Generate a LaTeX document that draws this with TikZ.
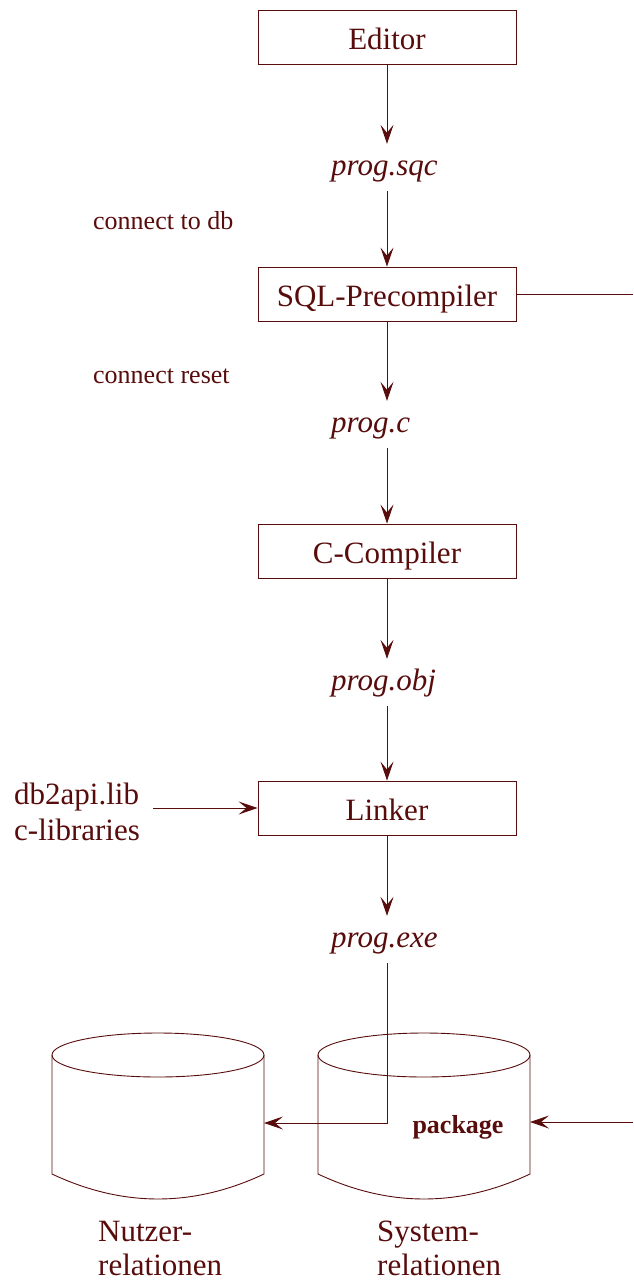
\documentclass[tikz,border=0pt]{standalone}
\usepackage{fontspec}
\setmainfont{Liberation Serif}
\usetikzlibrary{arrows.meta}
\definecolor{ink}{RGB}{88,12,12}
\begin{document}
\begin{tikzpicture}[x=1pt,y=-1pt,
  proc/.style={draw=ink, line width=0.9pt, minimum width=258pt, minimum height=54pt,
    inner sep=0pt, text height=24pt, text depth=0pt,
    font=\fontsize{31}{34}\selectfont, text=ink},
  file/.style={anchor=base west, inner sep=0pt, text height=31pt, text depth=16pt,
    font=\fontsize{31}{34}\selectfont\itshape, text=ink},
  flow/.style={draw=ink, line width=0.9pt,
    -{Stealth[length=19pt,width=13pt,inset=8pt]}},
  plain/.style={draw=ink, line width=0.9pt},
  note/.style={anchor=base west, inner sep=0pt, font=\fontsize{26}{30}\selectfont, text=ink},
  label/.style={anchor=base west, inner sep=0pt, font=\fontsize{31}{34}\selectfont, text=ink},
  db/.style={draw=ink, line width=0.9pt}]
\useasboundingbox (0,0) rectangle (633,1282);

% processing steps
\node[proc] (editor) at (387,37)    {Editor};
\node[proc] (sql)    at (387,294)   {SQL-Precompiler};
\node[proc] (cc)     at (387,551)   {C-Compiler};
\node[proc] (linker) at (387,808)   {Linker};

% intermediate files, left-aligned
\node[file] (sqc) at (331,175) {prog.sqc};
\node[file] (pc)  at (331,432) {prog.c};
\node[file] (obj) at (331,690) {prog.obj};
\node[file] (exe) at (331,947) {prog.exe};

% side notes
\node[note] (conn)  at (93,229) {connect to db};
\node[note] (reset) at (93,383) {connect reset};
\node[label] (lib1) at (14,804) {db2api.lib};
\node[label] (lib2) at (14,840) {c-libraries};
\coordinate (libsout) at (153,808);
\coordinate (dbside) at (633,292);

% main chain
\draw[flow] (editor.south) -- (editor.south |- sqc.north);
\draw[flow] (editor.south |- sqc.south) -- (sql.north);
\draw[flow] (sql.south) -- (sql.south |- pc.north);
\draw[flow] (sql.south |- pc.south) -- (cc.north);
\draw[flow] (cc.south) -- (cc.south |- obj.north);
\draw[flow] (cc.south |- obj.south) -- (linker.north);
\draw[flow] (linker.south) -- (linker.south |- exe.north);
\draw[flow] (libsout) -- (linker.west);
\draw[plain] (sql.east) -- (dbside |- sql.east);

% database cylinders
\foreach \cx in {158,424} {
  \draw[db] (\cx,1055) ellipse [x radius=106, y radius=22];
  \draw[db] (\cx-106,1055) -- (\cx-106,1174)
    .. controls (\cx-35.3,1207.3) and (\cx+35.3,1207.3) .. (\cx+106,1174)
    -- (\cx+106,1055);
}
\coordinate (nutzerin) at (264,1123);
\coordinate (systemin) at (530,1122);
\coordinate (pkgsrc) at (633,1122);
\node[anchor=base, inner sep=0pt, font=\fontsize{26}{30}\selectfont\bfseries, text=ink]
  (pkg) at (458,1133) {package};

\draw[flow] (linker.south |- exe.south) |- (nutzerin);
\draw[flow] (pkgsrc) -- (systemin);

% cylinder captions
\node[label] (n1) at (98,1241) {Nutzer-};
\node[label] (n2) at (98,1275) {relationen};
\node[label] (s1) at (377,1241) {System-};
\node[label] (s2) at (377,1275) {relationen};
\end{tikzpicture}
\end{document}
